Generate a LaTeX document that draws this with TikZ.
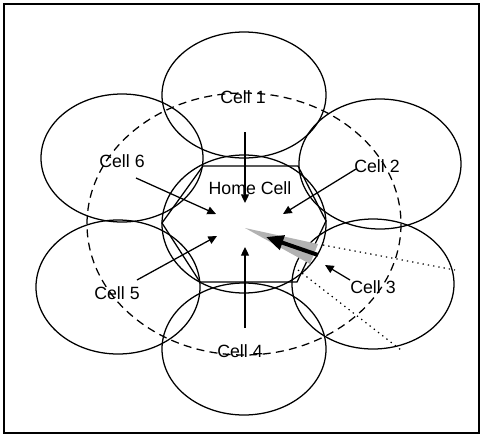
\documentclass[tikz,border=0pt]{standalone}
\usepackage{fontspec}
\setmainfont{Liberation Sans}
\usetikzlibrary{arrows.meta}
\begin{document}
\begin{tikzpicture}[x=0.75pt,y=-0.75pt,
  cell/.style={draw=black,line width=0.95pt},
  lbl/.style={font=\fontsize{13.3}{15}\selectfont,inner sep=0pt},
  ptr/.style={draw=black,line width=0.95pt,-{Triangle[length=6.5pt,width=6pt]}},
  dotline/.style={draw=black,line width=0.9pt,dash pattern=on 1pt off 3pt},
  dashring/.style={draw=black,line width=0.95pt,dash pattern=on 6pt off 4pt}]
\useasboundingbox (0,0) rectangle (482,436);
\draw[line width=1.1pt] (4,4) rectangle (479,433);
% surrounding cells
\draw[cell] (244,95) ellipse [x radius=82, y radius=63];
\draw[cell] (380,164) ellipse [x radius=81, y radius=65];
\draw[cell] (373,284) ellipse [x radius=81, y radius=65];
\draw[cell] (244,349) ellipse [x radius=82, y radius=66];
\draw[cell] (118,287) ellipse [x radius=82, y radius=67];
\draw[cell] (122,158) ellipse [x radius=81, y radius=64];
% home cell
\draw[cell] (244,224) ellipse [x radius=82, y radius=69];
\draw[cell] (162,223) -- (203,166) -- (298,166) -- (326,221) -- (297,282) -- (200,282) -- cycle;
% dashed outer ellipse
\draw[dashring] (244,224) ellipse [x radius=157, y radius=131];
% sector lines
\coordinate (s1a) at (323,245); \coordinate (s1b) at (455,270);
\coordinate (s2a) at (298,270); \coordinate (s2b) at (401,350);
\draw[dotline] (s1a) -- (s1b);
\draw[dotline] (s2a) -- (s2b);
% labels
\node[lbl] (c1) at (243,97) {Cell 1};
\node[lbl] (c2) at (377,166) {Cell 2};
\node[lbl] (c3) at (373,287) {Cell 3};
\node[lbl] (c4) at (240,351) {Cell 4};
\node[lbl] (c5) at (117,293) {Cell 5};
\node[lbl] (c6) at (122,161) {Cell 6};
\node[lbl] (home) at (250,188) {Home Cell};
% arrow ends
\coordinate (a1s) at (245,132); \coordinate (a1e) at (245,203);
\coordinate (a6s) at (136,178); \coordinate (a6e) at (216,214);
\coordinate (a2s) at (356,169); \coordinate (a2e) at (283,214);
\coordinate (a5s) at (137,280); \coordinate (a5e) at (217,236);
\coordinate (a4s) at (245,328); \coordinate (a4e) at (245,247);
\coordinate (a3s) at (350,280); \coordinate (a3e) at (325,265);
\draw[ptr] (a1s) -- (a1e);
\draw[ptr] (a6s) -- (a6e);
\draw[ptr] (a2s) -- (a2e);
\draw[ptr] (a5s) -- (a5e);
\draw[ptr] (a4s) -- (a4e);
\draw[ptr] (a3s) -- (a3e);
% shaded wedge and big arrow
\coordinate (w0) at (245,228);
\coordinate (w1) at (318,244);
\coordinate (w2) at (310,264);
\fill[gray!60] (w0) -- (w1) -- (w2) -- cycle;
\coordinate (bs) at (318,255); \coordinate (be) at (266,237);
\draw[line width=3pt,-{Triangle[length=13pt,width=11pt]}] (bs) -- (be);
\end{tikzpicture}
\end{document}
